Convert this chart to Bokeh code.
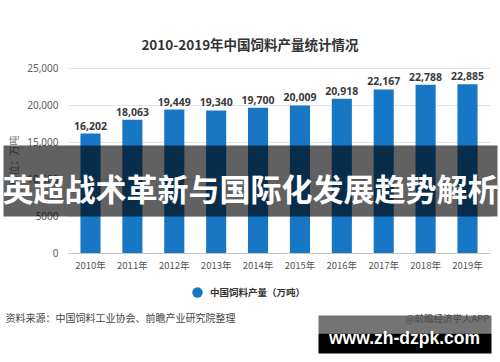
import math
from bokeh.plotting import figure
from bokeh.models import (LinearAxis, FixedTicker, Range1d, Label, BoxAnnotation,
                          Legend, LegendItem)
from bokeh.core.properties import value
from bokeh.embed import file_html
from bokeh.resources import INLINE

# ---------------- data ----------------
years = ["2010年", "2011年", "2012年", "2013年", "2014年",
         "2015年", "2016年", "2017年", "2018年", "2019年"]
output = [16202, 18063, 19449, 19340, 19700, 20009, 20918, 22167, 22788, 22885]
y_ticks = [0, 5000, 10000, 15000, 20000, 25000]
y_tick_labels = ["0", "5000", "10,000", "15,000", "20,000", "25,000"]
title_text = "2010-2019年中国饲料产量统计情况"
series_name = "中国饲料产量（万吨）"
unit_text = "单位：万吨"
source_text = "资料来源：中国饲料工业协会、前瞻产业研究院整理"
banner_text = "英超战术革新与国际化发展趋势解析"
brand_text = "@前瞻经济学人APP"
site_text = "www.zh-dzpk.com"

# ---------------- layout ----------------
W, H = 500, 362
X_START, X_END = -2.1485, 9.7878
Y_START, Y_END = -14730, 34189
PLOT_LEFT, PLOT_RIGHT = -0.525, 9.549
BAR_COLOR = "#1777c4"
CJK = "Noto Sans CJK SC"

positions = list(range(len(years)))
value_labels = [f"{v:,}" for v in output]

p = figure(width=W, height=H, output_backend="svg", toolbar_location=None,
           x_range=Range1d(X_START, X_END), y_range=Range1d(Y_START, Y_END),
           x_axis_type=None, y_axis_type=None, min_border=0)
p.outline_line_color = None
p.background_fill_color = "white"
p.border_fill_color = "white"

# gridlines
p.segment(x0=[PLOT_LEFT] * len(y_ticks), x1=[PLOT_RIGHT] * len(y_ticks),
          y0=y_ticks, y1=y_ticks, line_color="#e3e3e3", line_width=1)

# bars
bars = p.vbar(x=positions, top=output, width=0.48, fill_color=BAR_COLOR,
              line_color=None)

# value labels
p.text(x=positions, y=output, text=value_labels, text_align="center",
       text_baseline="bottom", y_offset=-4, text_font_size="10.5px",
       text_font_style="bold", text_color="#3a3a3a",
       text_font=value("Noto Sans"))

# axes
yaxis = LinearAxis(fixed_location=PLOT_LEFT, ticker=FixedTicker(ticks=y_ticks),
                   major_label_overrides=dict(zip(y_ticks, y_tick_labels)))
yaxis.axis_line_color = None
yaxis.major_tick_line_color = None
yaxis.minor_tick_line_color = None
yaxis.major_tick_out = 0
yaxis.major_tick_in = 0
yaxis.major_label_standoff = 10
yaxis.major_label_text_font = "Noto Sans"
yaxis.major_label_text_font_size = "10px"
yaxis.major_label_text_color = "#606060"
p.add_layout(yaxis, "left")

xaxis = LinearAxis(fixed_location=0, ticker=FixedTicker(ticks=positions),
                   major_label_overrides=dict(zip(positions, years)),
                   bounds=(PLOT_LEFT, PLOT_RIGHT))
xaxis.axis_line_color = "#c4c4c4"
xaxis.major_tick_line_color = None
xaxis.minor_tick_line_color = None
xaxis.major_tick_out = 0
xaxis.major_tick_in = 0
xaxis.major_label_standoff = 5
xaxis.major_label_text_font = CJK
xaxis.major_label_text_font_size = "9.5px"
xaxis.major_label_text_color = "#555555"
p.add_layout(xaxis, "below")

# title
p.add_layout(Label(x=249.5, y=319, x_units="screen", y_units="screen",
                   text=title_text, text_align="center", text_baseline="middle",
                   text_font=CJK, text_font_size="13.5px", text_font_style="bold",
                   text_color="#333333"))

# unit label
p.add_layout(Label(x=13, y=202, x_units="screen", y_units="screen",
                   text=unit_text, angle=math.pi / 2, text_align="center",
                   text_baseline="middle", text_font=CJK, text_font_size="10px",
                   text_color="#777777"))

# legend
dot = p.scatter(x=positions, y=output, marker="circle", fill_color=BAR_COLOR,
                line_color=None, visible=False)
legend = Legend(items=[LegendItem(label=series_name, renderers=[dot])],
                location=(184, 57), glyph_width=26, glyph_height=26,
                label_standoff=0, padding=0, margin=0, spacing=0,
                label_text_font=CJK, label_text_font_size="9.5px",
                label_text_font_style="bold", label_text_color="#333333",
                border_line_color=None, background_fill_alpha=0,
                inactive_fill_alpha=0)
p.add_layout(legend, "center")

# source
p.add_layout(Label(x=5, y=45, x_units="screen", y_units="screen",
                   text=source_text, text_align="left", text_baseline="middle",
                   text_font=CJK, text_font_size="10px", text_color="#444444"))

# site box
p.add_layout(BoxAnnotation(left=318, right=491, top=47, bottom=29,
                           left_units="screen", right_units="screen",
                           top_units="screen", bottom_units="screen",
                           fill_color="#747474", fill_alpha=1, line_color=None))
p.add_layout(BoxAnnotation(left=318, right=491, top=29, bottom=9,
                           left_units="screen", right_units="screen",
                           top_units="screen", bottom_units="screen",
                           fill_color="black", fill_alpha=1, line_color=None))
p.add_layout(Label(x=405, y=45, x_units="screen", y_units="screen",
                   text=brand_text, text_align="left", text_baseline="middle",
                   text_font=CJK, text_font_size="9.5px", text_color="#4a4a4a"))
p.add_layout(Label(x=404, y=25, x_units="screen", y_units="screen",
                   text=site_text, text_align="center", text_baseline="middle",
                   text_font="Liberation Sans", text_font_size="17.5px",
                   text_font_style="bold", text_color="white"))

# banner
p.add_layout(BoxAnnotation(left=3, right=497, top=217, bottom=146,
                           left_units="screen", right_units="screen",
                           top_units="screen", bottom_units="screen",
                           fill_color="black", fill_alpha=0.62, line_color=None))
p.add_layout(Label(x=250, y=175, x_units="screen", y_units="screen",
                   text=banner_text, text_align="center", text_baseline="middle",
                   text_font=CJK, text_font_size="31px", text_font_style="bold",
                   text_color="white"))

open("out.html", "w").write(file_html(p, INLINE))
